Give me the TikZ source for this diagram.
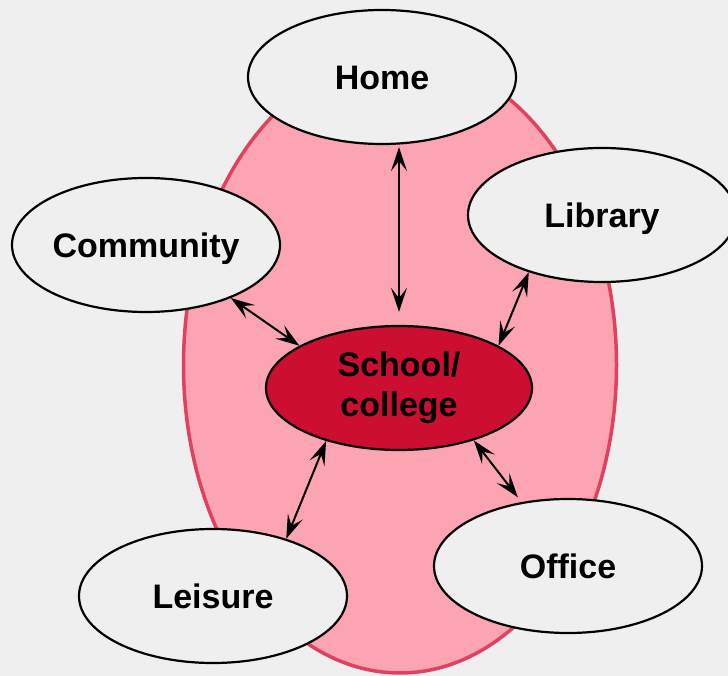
\documentclass[tikz,border=0pt]{standalone}
\usepackage{fontspec}
\setmainfont{Liberation Sans}
\usepackage{tikz}
\usetikzlibrary{arrows.meta,positioning,shapes.geometric}
\definecolor{bggray}{RGB}{239,239,239}
\definecolor{zonepink}{RGB}{252,164,178}
\definecolor{zoneedge}{RGB}{226,64,95}
\definecolor{schoolred}{RGB}{204,14,48}

\begin{document}
\begin{tikzpicture}[x=1pt,y=-1pt,
        place/.style={ellipse,draw=black,line width=2.2pt,fill=bggray,minimum width=268pt,minimum height=134pt,inner sep=0pt,font=\fontsize{34}{40}\selectfont\bfseries,align=center,text height=25pt,text depth=0pt},
        link/.style={{Stealth[length=24pt,width=16pt,inset=10pt]}-{Stealth[length=24pt,width=16pt,inset=10pt]},line width=2pt}]
    \useasboundingbox (0,0) rectangle (728,676);
    \fill[bggray] (0,0) rectangle (728,676);
    \clip (0,0) rectangle (728,676);

    % Outer zone
    \draw[line width=3.5pt,zoneedge,fill=zonepink] (400,365) ellipse [x radius=216.5, y radius=308];

    % Centre
    \node[place,fill=schoolred,minimum width=266pt,minimum height=124pt,text height=,text depth=] (school) at (399,388) {School/\\college};

    % Places round it
    \node[place] (home) at (382,77) {Home};
    \node[place] (community) at (146,245) {Community};
    \node[place] (library) at (602,215) {Library};
    \node[place] (leisure) at (213,596) {Leisure};
    \node[place] (office) at (568,566) {Office};

    % Links
    \draw[link,shorten <=2pt,shorten >=13pt] (school.north |- home.south) -- (school.north);
    \draw[link] (community.-32) -- (school.157);
    \draw[link] (library.218) -- (school.23);
    \draw[link] (leisure.38) -- (school.216);
    \draw[link,shorten <=6pt] (office.126) -- (school.-35);
\end{tikzpicture}
\end{document}
